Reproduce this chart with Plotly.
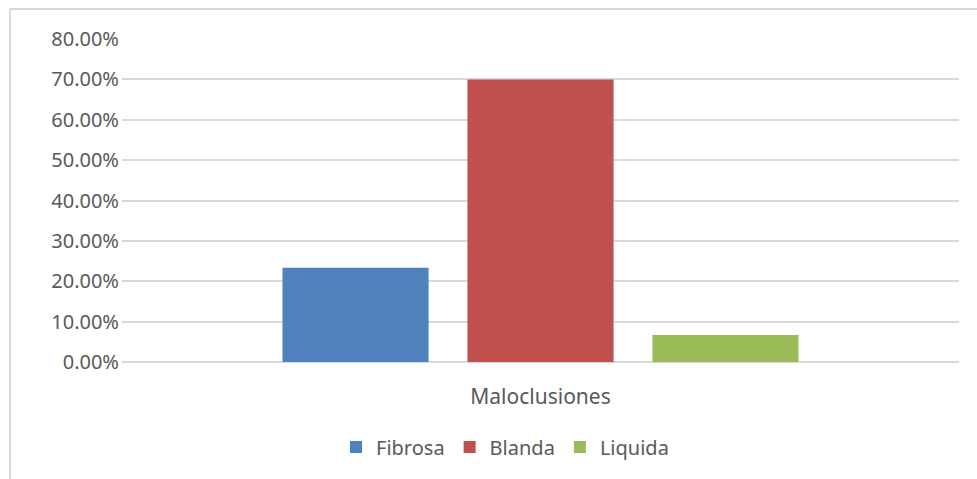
import plotly.graph_objects as go

# Chart data
category = ["Maloclusiones"]
series_names = ["Fibrosa", "Blanda", "Liquida"]
series_values = [0.2333, 0.70, 0.0667]
series_colors = ["#4F81BD", "#C0504D", "#9BBB59"]

y_ticks = [0.0, 0.1, 0.2, 0.3, 0.4, 0.5, 0.6, 0.7, 0.8]

TEXT = "#595959"
GRID = "#D9D9D9"
FONT = "Noto Sans, Open Sans, sans-serif"

fig = go.Figure()
for name, val, col in zip(series_names, series_values, series_colors):
    fig.add_trace(go.Bar(x=category, y=[val], name=name, marker=dict(color=col, line=dict(width=0))))

W, H = 977, 479
L, R, T, B = 122, 18, 39, 117
pw, ph = W - L - R, H - T - B

def px_to_paper_x(px):
    return (px - L) / pw

def px_to_paper_y(py):
    return (H - B - py) / ph

fig.update_layout(
    width=W, height=H,
    margin=dict(l=L, r=R, t=T, b=B, pad=0),
    paper_bgcolor="white", plot_bgcolor="white",
    barmode="group", bargap=0.337, bargroupgap=0.21,
    font=dict(family=FONT, size=20, color=TEXT),
    showlegend=True,
    legend=dict(orientation="h", x=px_to_paper_x(505), xanchor="center",
                y=px_to_paper_y(447), yanchor="middle",
                font=dict(size=20, color=TEXT), itemwidth=30,
                traceorder="normal"),
    xaxis=dict(showgrid=False, showline=False, zeroline=False, ticks="",
               ticklabelstandoff=20, tickfont=dict(size=21, color=TEXT)),
    yaxis=dict(range=[0, 0.8], tickvals=y_ticks, tickformat=".2%",
               showgrid=True, gridcolor=GRID, gridwidth=1.5,
               zeroline=True, zerolinecolor=GRID, zerolinewidth=2,
               showline=False, ticks="", ticklabelstandoff=2,
               tickfont=dict(size=20, color=TEXT)),
    shapes=[
        # chart-area frame (top and left edges)
        dict(type="line", xref="paper", yref="paper",
             x0=px_to_paper_x(10), x1=px_to_paper_x(980),
             y0=px_to_paper_y(9), y1=px_to_paper_y(9),
             line=dict(color=GRID, width=2)),
        dict(type="line", xref="paper", yref="paper",
             x0=px_to_paper_x(10), x1=px_to_paper_x(10),
             y0=px_to_paper_y(9), y1=px_to_paper_y(482),
             line=dict(color=GRID, width=2)),
    ],
)

fig.write_html("out.html")
